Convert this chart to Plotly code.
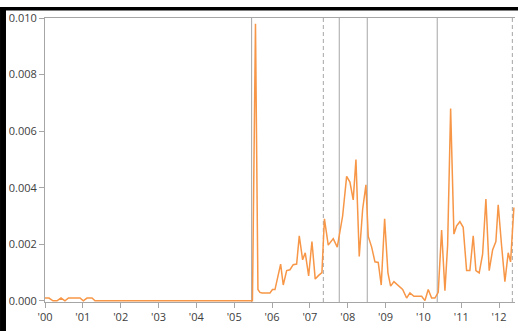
import plotly.graph_objects as go

# Decimal-year positions and values
years = [2000.000, 2000.106, 2000.211, 2000.317, 2000.423, 2000.528, 2000.621, 2000.925,
         2001.012, 2001.110, 2001.242, 2001.321, 2005.482, 2005.562, 2005.627, 2005.680,
         2005.733, 2005.945, 2006.011, 2006.077, 2006.227, 2006.296, 2006.386, 2006.473,
         2006.560, 2006.650, 2006.719, 2006.808, 2006.877, 2006.967, 2007.054, 2007.141,
         2007.231, 2007.318, 2007.384, 2007.485, 2007.617, 2007.723, 2007.865, 2007.971,
         2008.058, 2008.145, 2008.217, 2008.304, 2008.394, 2008.481, 2008.542, 2008.632,
         2008.719, 2008.806, 2008.885, 2008.975, 2009.062, 2009.133, 2009.221, 2009.326,
         2009.451, 2009.556, 2009.643, 2009.749, 2009.952, 2010.040, 2010.127, 2010.217,
         2010.304, 2010.391, 2010.481, 2010.568, 2010.639, 2010.719, 2010.806, 2010.877,
         2010.964, 2011.051, 2011.141, 2011.228, 2011.316, 2011.387, 2011.474, 2011.564,
         2011.651, 2011.738, 2011.828, 2011.915, 2011.976, 2012.066, 2012.153, 2012.240,
         2012.303, 2012.391]
values = [0.0001, 0.0001, 0.0, 0.0, 0.0001, 0.0, 0.0001, 0.0001,
          0.0, 0.0001, 0.0001, 0.0, 0.0, 0.0098, 0.0004, 0.0003,
          0.00028, 0.00028, 0.0004, 0.0004, 0.0013, 0.00056, 0.00107, 0.0011,
          0.00128, 0.0013, 0.0023, 0.00145, 0.0017, 0.00088, 0.0021, 0.00077,
          0.0009, 0.001, 0.0029, 0.00197, 0.0022, 0.0019, 0.003, 0.0044,
          0.0042, 0.00357, 0.005, 0.00157, 0.00324, 0.0041, 0.00228, 0.0019,
          0.00138, 0.00136, 0.00056, 0.0029, 0.00099, 0.00052, 0.00068, 0.00056,
          0.0004, 0.0001, 0.00028, 0.00016, 0.00016, 0.00001, 0.0004, 0.0001,
          0.0001, 0.0003, 0.0025, 0.00036, 0.00195, 0.0068, 0.00236, 0.00265,
          0.0028, 0.0026, 0.00107, 0.00107, 0.0023, 0.00107, 0.00099, 0.00165,
          0.0036, 0.00107, 0.0018, 0.0021, 0.0034, 0.00195, 0.00068, 0.0017,
          0.00138, 0.0033]

event_solid = [2005.46, 2007.776, 2008.516, 2010.365]
event_dashed = [2007.355, 2012.35]

x_tick_vals = list(range(2000, 2013))
x_tick_text = ["'00", "'01", "'02", "'03", "'04", "'05", "'06", "'07", "'08", "'09", "'10", "'11", "'12"]
y_tick_vals = [0.0, 0.002, 0.004, 0.006, 0.008, 0.010]
y_tick_text = ["0.000", "0.002", "0.004", "0.006", "0.008", "0.010"]

AXIS = "#a6a6a6"
TXT = "#404040"

fig = go.Figure()
fig.add_trace(go.Scatter(x=years, y=values, mode="lines",
                         line=dict(color="#F79646", width=1.5), hoverinfo="skip"))

shapes = []
for xv in event_solid:
    shapes.append(dict(type="line", xref="x", yref="paper", x0=xv, x1=xv, y0=0, y1=1,
                       line=dict(color="#a6a6a6", width=1), layer="below"))
for xv in event_dashed:
    shapes.append(dict(type="line", xref="x", yref="paper", x0=xv, x1=xv, y0=0, y1=1,
                       line=dict(color="#a6a6a6", width=1, dash="4px,3px"), layer="below"))
# black frame fragments (top and left) seen in the reference image
shapes.append(dict(type="rect", xref="paper", yref="paper", x0=-0.0957, x1=1.0064,
                   y0=1.0264, y1=1.0387, fillcolor="black", line=dict(width=0)))
shapes.append(dict(type="rect", xref="paper", yref="paper", x0=-0.0957, x1=-0.0830,
                   y0=-0.11, y1=1.0387, fillcolor="black", line=dict(width=0)))

fig.update_layout(
    width=518, height=331,
    margin=dict(l=45, r=3, t=18, b=29),
    paper_bgcolor="white", plot_bgcolor="white",
    showlegend=False,
    shapes=shapes,
    font=dict(family="Open Sans", size=11, color=TXT),
    xaxis=dict(range=[2000, 2012.42], tickvals=x_tick_vals, ticktext=x_tick_text,
               showgrid=False, zeroline=False, showline=True, linecolor=AXIS, linewidth=1,
               mirror=True, ticks="outside", ticklen=5, tickcolor=AXIS,
               tickfont=dict(family="Open Sans", size=11, color=TXT)),
    yaxis=dict(range=[-0.00004, 0.0100], tickvals=y_tick_vals, ticktext=y_tick_text,
               showgrid=False, zeroline=False, showline=True, linecolor=AXIS, linewidth=1,
               ticks="outside", ticklen=5, tickcolor=AXIS,
               tickfont=dict(family="Open Sans", size=11, color=TXT)),
)

fig.write_html("out.html", config={"displayModeBar": False},
               post_script="document.body.style.margin='0';document.body.style.overflow='hidden';")
